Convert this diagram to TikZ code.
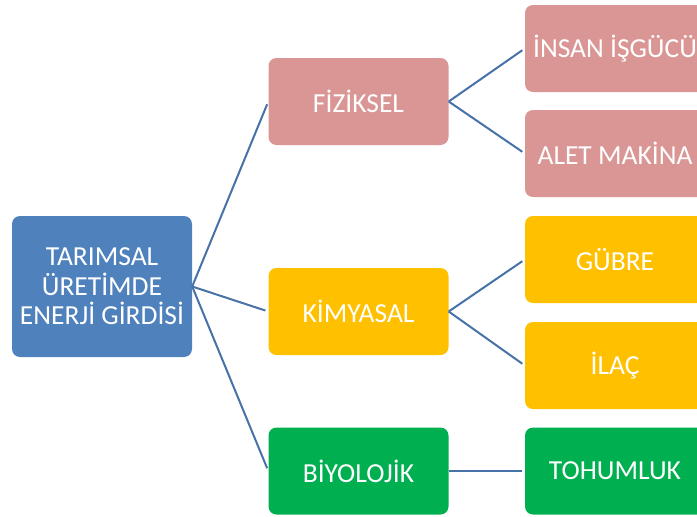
\documentclass[tikz,border=0pt]{standalone}
\usepackage{fontspec}
\setmainfont{Carlito}
\definecolor{rootblue}{HTML}{4F81BD}
\definecolor{pinkc}{HTML}{D99694}
\definecolor{goldc}{HTML}{FFC000}
\definecolor{greenc}{HTML}{00B050}
\definecolor{linec}{HTML}{4672A8}
\begin{document}
\begin{tikzpicture}[x=1pt,y=-1pt,
  box/.style={rounded corners=8pt, minimum width=180pt, minimum height=87pt,
    inner sep=0pt, text=white, font=\fontsize{27.5}{29.5}\selectfont, align=center},
  conn/.style={draw=linec, line width=2pt, shorten >=3pt}]
\useasboundingbox (0,0) rectangle (697,517);
\clip (0,0) rectangle (697,517);
\node[box, fill=rootblue, minimum height=141pt] (root) at (102,286.5) {TARIMSAL\\ÜRETİMDE\\ENERJİ GİRDİSİ};
\node[box, fill=pinkc] (fiz) at (358.5,101.5) {FİZİKSEL};
\node[box, fill=goldc] (kim) at (358.5,311.5) {KİMYASAL};
\node[box, fill=greenc] (bio) at (358.5,471) {BİYOLOJİK};
\node[box, fill=pinkc] (ins) at (615,48.5) {İNSAN İŞGÜCÜ};
\node[box, fill=pinkc] (alet) at (615,153.5) {ALET MAKİNA};
\node[box, fill=goldc] (gub) at (615,259.5) {GÜBRE};
\node[box, fill=goldc] (ilac) at (615,365.5) {İLAÇ};
\node[box, fill=greenc] (toh) at (615,471) {TOHUMLUK};
\draw[conn] (root.east) -- (fiz.west);
\draw[conn] (root.east) -- (kim.west);
\draw[conn] (root.east) -- (bio.west);
\draw[conn] (fiz.east) -- (ins.west);
\draw[conn] (fiz.east) -- (alet.west);
\draw[conn] (kim.east) -- (gub.west);
\draw[conn] (kim.east) -- (ilac.west);
\draw[conn] (bio.east) -- (toh.west);
\end{tikzpicture}
\end{document}
